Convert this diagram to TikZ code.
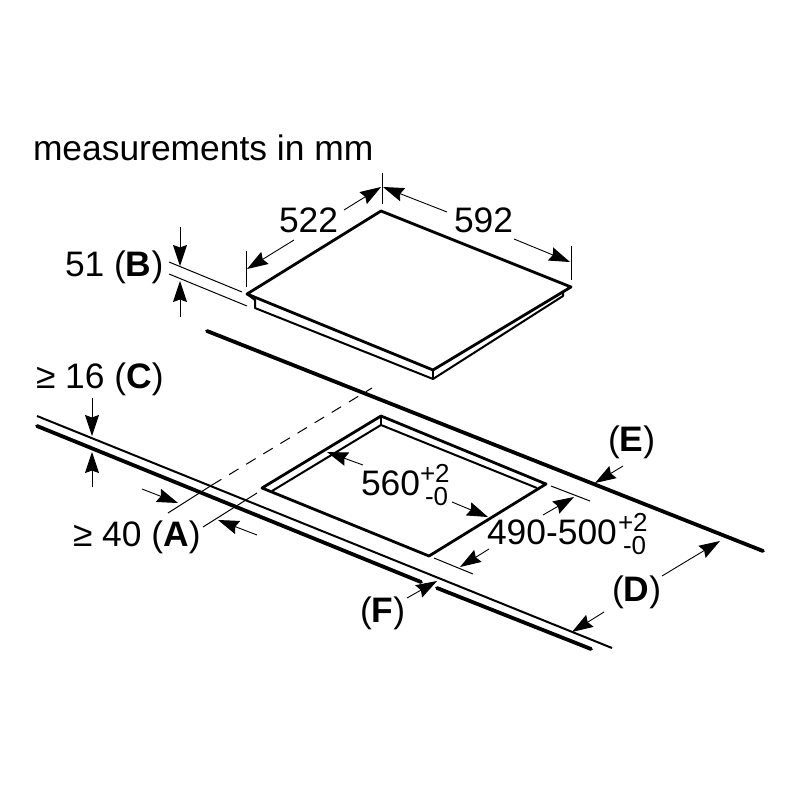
\documentclass[tikz,border=0pt]{standalone}
\usepackage{fontspec}
\setmainfont{Liberation Sans}
\usetikzlibrary{arrows.meta}
\tikzset{
  thick line/.style={line width=3.8pt,line cap=round},
  body line/.style={line width=2.8pt,line join=round,line cap=round},
  thin line/.style={line width=1pt},
  front line/.style={line width=2pt},
  dim/.style={line width=0.9pt,-{Stealth[length=21pt,width=14pt,inset=2.5pt]}},
  label/.style={anchor=base west,inner sep=0pt,outer sep=0pt,font=\fontsize{35.4}{35.4}\selectfont},
  small label/.style={anchor=base west,inner sep=0pt,outer sep=0pt,font=\fontsize{26}{26}\selectfont}
}
\begin{document}
\begin{tikzpicture}[x=1pt,y=-1pt]
\useasboundingbox[fill=white] (0,0) rectangle (800,800);

% Hob
\draw[body line] (247,294) -- (381,211) -- (571,287) -- (433,370) -- cycle;
\draw[line width=2pt,line join=round] (247,294) -- (255,300) -- (255,308) -- (433,379) -- (563,296) -- (563,292);
\draw[line width=1.8pt] (433,370) -- (433,379);

% Worktop
\draw[thick line] (207,331) -- (763,551);
\draw[front line] (37,416) -- (612,648);
\draw[thick line] (37,426) -- (421,582);
\draw[thick line] (437,588) -- (591,649);

% Cut-out
\draw[body line] (429,556) -- (262,488) -- (381,416) -- (546,484) -- cycle;
\draw[front line] (272,491) -- (381,425) -- (537,488);
\draw[front line] (381,416) -- (381,425);

% Projection lines
\draw[thin line,dash pattern=on 11pt off 9pt] (212,485) -- (372,388);
\draw[thin line] (168,513) -- (212,485);
\draw[thin line] (203,527) -- (257,493);

% Extension lines
\draw[thin line] (169,262) -- (242,292);
\draw[thin line] (169,274) -- (247,306);
\draw[thin line] (246,251) -- (246,287);
\draw[thin line] (382,173) -- (382,204);
\draw[thin line] (571,246) -- (571,280);
\draw[thin line] (434,558) -- (473,574);
\draw[thin line] (551,486) -- (590,501);

% Dimension arrows
\draw[dim] (180,227) -- (180,266);
\draw[dim] (180,317) -- (180,281);
\draw[dim] (294,240) -- (247,269);
\draw[dim] (344,210) -- (381,187);
\draw[dim] (447,212) -- (383,187);
\draw[dim] (514,239) -- (570,262);
\draw[dim] (92,398) -- (92,436);
\draw[dim] (92,487) -- (92,452);
\draw[dim] (142,489) -- (178,503);
\draw[dim] (257,535) -- (218,520);
\draw[dim] (363,465) -- (327,452);
\draw[dim] (452,502) -- (488,517);
\draw[dim] (543,515) -- (574,497);
\draw[dim] (489,549) -- (460,567);
\draw[dim] (623,466) -- (595,483);
\draw[dim] (662,576) -- (720,541);
\draw[dim] (604,612) -- (572,632);
\draw[dim] (407,598) -- (437,581);

% Labels
\node[label] (title) at (33,160) {measurements in mm};
\node[label] (w522) at (279,232) {522};
\node[label] (w592) at (454,232) {592};
\node[label] (b) at (65,276) {51 (\textbf{B})};
\node[label] (c) at (36,388) {≥ 16 (\textbf{C})};
\node[label] (a) at (73,546) {≥ 40 (\textbf{A})};
\node[label] (w560) at (361,495) {560};
\node[small label] (w560p) at (420,482) {+2};
\node[small label] (w560m) at (425,505) {-0};
\node[label] (w490) at (487,544) {490-500};
\node[small label] (w490p) at (618,531) {+2};
\node[small label] (w490m) at (623,554) {-0};
\node[label] (e) at (608,451) {(\textbf{E})};
\node[label] (d) at (612,601) {(\textbf{D})};
\node[label] (f) at (360,622) {(\textbf{F})};
\end{tikzpicture}
\end{document}
